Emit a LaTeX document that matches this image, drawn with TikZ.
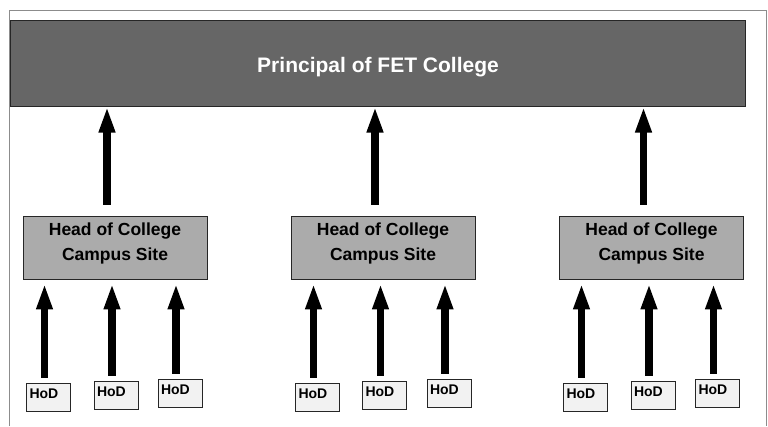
\documentclass[tikz,border=0pt]{standalone}
\usepackage{fontspec}
\setmainfont{Liberation Sans}
\usetikzlibrary{arrows.meta}
\definecolor{principalgray}{gray}{0.4}
\definecolor{sitegray}{gray}{0.67}
\definecolor{hodgray}{gray}{0.95}
\definecolor{framegray}{gray}{0.55}

\begin{document}
\begin{tikzpicture}[x=1pt,y=-1pt,
  principal/.style={draw=black!85,line width=1pt,fill=principalgray,text=white,
    font=\bfseries\fontsize{21}{25}\selectfont,minimum width=735pt,minimum height=86pt,inner sep=0pt,
    text height=19pt,text depth=0.4pt},
  site/.style={draw=black!85,line width=0.9pt,fill=sitegray,align=center,
    font=\bfseries\fontsize{17.5}{25}\selectfont,minimum width=184pt,minimum height=63pt,inner sep=0pt,
    text height=38pt,text depth=13pt},
  hod/.style={draw=black!85,line width=0.9pt,fill=hodgray,font=\bfseries\fontsize{14}{16}\selectfont,
    text width=38pt,align=left,inner xsep=3pt,inner ysep=5pt,text height=10pt,text depth=8pt},
  bigarrow/.style={line width=7.5pt,-{Triangle[width=15pt,length=26pt]}}]
\path[use as bounding box] (0,0) rectangle (768,426);
\draw[framegray,line width=0.8pt] (9.5,426) -- (9.5,10) -- (766,10) -- (766,426);
% top
\node[principal] (principal) at (378,63) {Principal of FET College};
% campus sites
\node[site] (site1) at (115,247.5) {Head of College\\Campus Site};
\node[site] (site2) at (383,247.5) {Head of College\\Campus Site};
\node[site] (site3) at (651.5,247.5) {Head of College\\Campus Site};
\draw[bigarrow] ([xshift=-8pt,yshift=11pt]site1.north) -- ([xshift=-8pt]site1.north |- principal.south);
\draw[bigarrow] ([xshift=-8pt,yshift=11pt]site2.north) -- ([xshift=-8pt]site2.north |- principal.south);
\draw[bigarrow] ([xshift=-8pt,yshift=11pt]site3.north) -- ([xshift=-8pt]site3.north |- principal.south);
% heads of department
\node[hod] (hod11) at (48.5,397) {HoD};
\node[hod] (hod12) at (116,395) {HoD};
\node[hod] (hod13) at (180,393) {HoD};
\node[hod] (hod21) at (317.5,397) {HoD};
\node[hod] (hod22) at (384.5,395) {HoD};
\node[hod] (hod23) at (449,393) {HoD};
\node[hod] (hod31) at (585.5,397) {HoD};
\node[hod] (hod32) at (653,395) {HoD};
\node[hod] (hod33) at (717.5,393) {HoD};
\draw[bigarrow] ([xshift=-4pt,yshift=5pt]hod11.north) -- ([xshift=-4pt,yshift=-4pt]hod11.north |- site1.south);
\draw[bigarrow] ([xshift=-4pt,yshift=5pt]hod12.north) -- ([xshift=-4pt,yshift=-4pt]hod12.north |- site1.south);
\draw[bigarrow] ([xshift=-4pt,yshift=5pt]hod13.north) -- ([xshift=-4pt,yshift=-4pt]hod13.north |- site1.south);
\draw[bigarrow] ([xshift=-4pt,yshift=5pt]hod21.north) -- ([xshift=-4pt,yshift=-4pt]hod21.north |- site2.south);
\draw[bigarrow] ([xshift=-4pt,yshift=5pt]hod22.north) -- ([xshift=-4pt,yshift=-4pt]hod22.north |- site2.south);
\draw[bigarrow] ([xshift=-4pt,yshift=5pt]hod23.north) -- ([xshift=-4pt,yshift=-4pt]hod23.north |- site2.south);
\draw[bigarrow] ([xshift=-4pt,yshift=5pt]hod31.north) -- ([xshift=-4pt,yshift=-4pt]hod31.north |- site3.south);
\draw[bigarrow] ([xshift=-4pt,yshift=5pt]hod32.north) -- ([xshift=-4pt,yshift=-4pt]hod32.north |- site3.south);
\draw[bigarrow] ([xshift=-4pt,yshift=5pt]hod33.north) -- ([xshift=-4pt,yshift=-4pt]hod33.north |- site3.south);
\end{tikzpicture}
\end{document}
